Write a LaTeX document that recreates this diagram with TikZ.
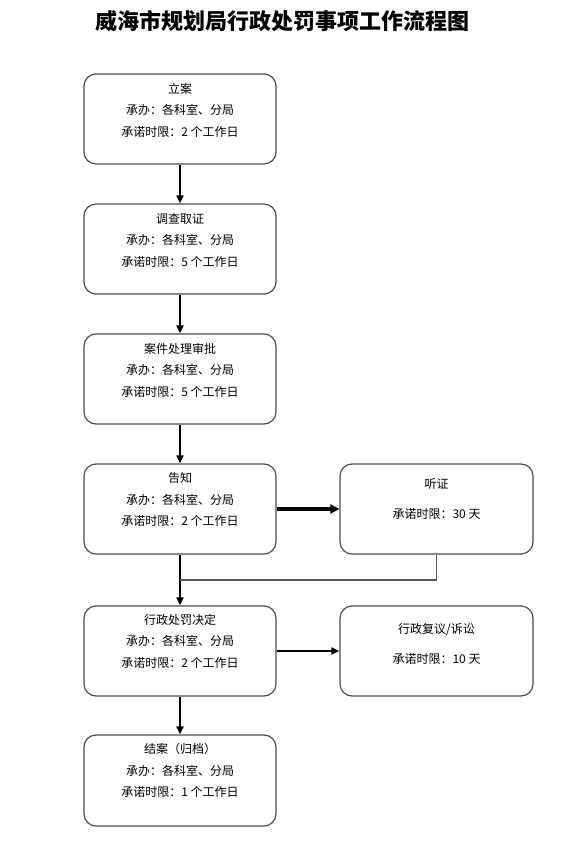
\documentclass[tikz,border=0pt]{standalone}
\usepackage{fontspec}
\setmainfont{Noto Sans CJK SC}
\usetikzlibrary{arrows.meta}
\begin{document}
\begin{tikzpicture}[x=1pt,y=-1pt,
  box/.style={draw=black!70, line width=1.2pt, rounded corners=12pt, minimum width=192pt, minimum height=90pt, inner sep=0pt},
  txt/.style={align=center, inner sep=0pt, font=\fontsize{12}{21.5}\selectfont},
  rtxt/.style={align=center, inner sep=0pt, font=\fontsize{12}{30}\selectfont},
  flow/.style={draw=black, line width=1.8pt, -{Triangle[length=8pt,width=7pt]}},
  thickflow/.style={draw=black, line width=3.3pt, -{Triangle[length=9pt,width=9pt]}},
  back/.style={draw=black!65, line width=1.1pt}]
\useasboundingbox (0,0) rectangle (568,842);
\node[font=\fontsize{22}{26}\selectfont\bfseries] (title) at (282,21) {威海市规划局行政处罚事项工作流程图};

\node[box] (b1) at (180,119) {};
\node[box] (b2) at (180,249) {};
\node[box] (b3) at (180,379) {};
\node[box] (b4) at (180,509) {};
\node[box] (b5) at (180,651) {};
\node[box, minimum height=91pt] (b6) at (180,780.5) {};
\node[box, minimum width=193pt] (r1) at (436.5,509) {};
\node[box, minimum width=193pt] (r2) at (436.5,651) {};

\node[txt] (t1) at (180,110) {立案\\承办：各科室、分局\\承诺时限：2 个工作日};
\node[txt] (t2) at (180,240) {调查取证\\承办：各科室、分局\\承诺时限：5 个工作日};
\node[txt] (t3) at (180,370) {案件处理审批\\承办：各科室、分局\\承诺时限：5 个工作日};
\node[txt] (t4) at (180,499.5) {告知\\承办：各科室、分局\\承诺时限：2 个工作日};
\node[txt] (t5) at (180,641) {行政处罚决定\\承办：各科室、分局\\承诺时限：2 个工作日};
\node[txt] (t6) at (180,770.5) {结案（归档）\\承办：各科室、分局\\承诺时限：1 个工作日};
\node[rtxt] (u1) at (436.5,499) {听证\\承诺时限：30 天};
\node[rtxt] (u2) at (436.5,644) {行政复议/诉讼\\承诺时限：10 天};

\draw[flow] (b1.south) -- (b2.north);
\draw[flow] (b2.south) -- (b3.north);
\draw[flow] (b3.south) -- (b4.north);
\draw[flow] (b4.south) -- (b5.north);
\draw[flow] (b5.south) -- (b6.north);
\draw[thickflow] (b4.east) -- (r1.west);
\draw[flow] (b5.east) -- (r2.west);
\coordinate (j) at (180,580);
\draw[back] (r1.south) |- (j);
\end{tikzpicture}
\end{document}
